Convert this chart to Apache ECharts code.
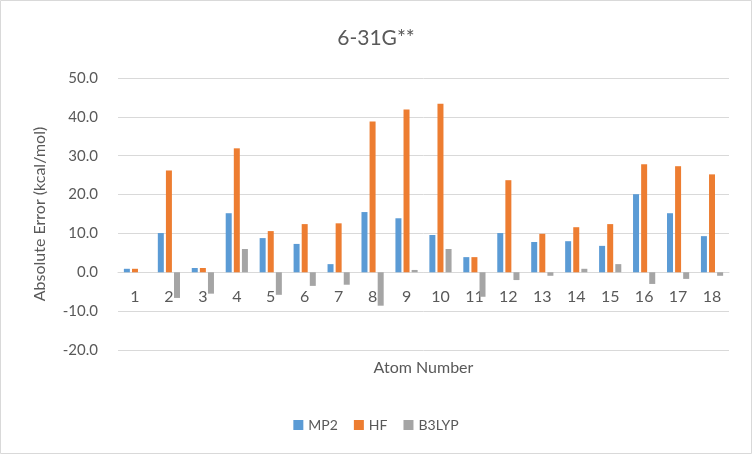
<!DOCTYPE html>
<html><head><meta charset="utf-8">
<script src="https://cdn.jsdelivr.net/npm/echarts@6/dist/echarts.min.js"></script>
<style>html,body{margin:0;padding:0;background:#fff}#c{width:752px;height:455px}</style>
</head><body><div id="c"></div>
<script>
const categories = ['1','2','3','4','5','6','7','8','9','10','11','12','13','14','15','16','17','18'];
const mp2 =   [0.9, 10.1, 1.1, 15.2, 8.8, 7.3, 2.1, 15.5, 13.9, 9.6, 3.9, 10.1, 7.8, 8.0, 6.8, 20.1, 15.2, 9.3];
const hf =    [0.9, 26.2, 1.1, 31.9, 10.6, 12.4, 12.6, 38.8, 41.9, 43.4, 3.9, 23.7, 9.9, 11.6, 12.4, 27.8, 27.3, 25.2];
const b3lyp = [0.0, -6.6, -5.5, 6.0, -5.8, -3.5, -3.2, -8.6, 0.6, 6.0, -6.3, -2.0, -0.9, 0.9, 2.1, -3.0, -1.7, -0.9];
const seriesNames = ['MP2','HF','B3LYP'];
const colors = ['#5b9bd5','#ed7d31','#a5a5a5'];
const FONT = 'Lato, "Open Sans", sans-serif';
const TXT = '#595959';
const chart = echarts.init(document.getElementById('c'), null, {renderer:'canvas'});
const data = [mp2, hf, b3lyp];
chart.setOption({
  animation: false,
  textStyle: {fontFamily: FONT, color: TXT},
  title: {text: '6-31G**', left: 'center', top: 23,
    textStyle: {fontFamily: FONT, fontSize: 21, fontWeight: 'normal', color: TXT}},
  graphic: [{type:'rect', shape:{x:0.5,y:0.5,width:751,height:453}, style:{fill:'none', stroke:'#d9d9d9', lineWidth:1}, silent:true}],
  legend: {bottom: 18, left: 'center', itemWidth: 10, itemHeight: 10, itemGap: 16,
    icon: 'rect', textStyle: {fontFamily: FONT, fontSize: 14, color: TXT}, data: seriesNames},
  grid: {left: 118, right: 23, top: 78, bottom: 105, containLabel: false, outerBoundsMode: 'none'},
  xAxis: {type: 'category', data: categories, offset: -78,
    name: 'Atom Number', nameLocation: 'middle', nameGap: 88,
    nameTextStyle: {fontFamily: FONT, fontSize: 16, color: TXT},
    axisLine: {onZero: false, lineStyle: {color: '#d9d9d9'}},
    axisTick: {show: false},
    axisLabel: {fontFamily: FONT, fontSize: 16, color: TXT, margin: 17}},
  yAxis: {type: 'value', min: -20, max: 50, interval: 10,
    name: 'Absolute Error (kcal/mol)', nameLocation: 'middle', nameGap: 70,
    nameTextStyle: {fontFamily: FONT, fontSize: 16, color: TXT},
    axisLine: {show: false}, axisTick: {show: false},
    axisLabel: {fontFamily: FONT, fontSize: 15, color: TXT, margin: 20,
      formatter: v => v.toFixed(1)},
    splitLine: {lineStyle: {color: '#d9d9d9', width: 1}}},
  series: seriesNames.map((n, i) => ({
    name: n, type: 'bar', data: data[i], barWidth: 6, barGap: '35%',
    itemStyle: {color: colors[i]}
  }))
});
</script></body></html>
